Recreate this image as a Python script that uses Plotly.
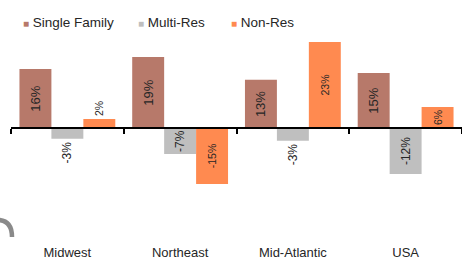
import plotly.graph_objects as go

categories = ["Midwest", "Northeast", "Mid-Atlantic", "USA"]
single_family = [15.8, 19.0, 12.9, 14.7]
multi_res = [-2.9, -7.0, -3.4, -12.3]
non_res = [2.4, -15.0, 23.0, 5.6]
series_names = ["Single Family", "Multi-Res", "Non-Res"]
colors = ["#B7796A", "#BFBFBF", "#FF8A50"]

Y_RANGE = [-30.8, 24.9]
FONT = "Liberation Sans, Arial, sans-serif"
TXT = "#262626"

fig = go.Figure()

series = [single_family, multi_res, non_res]
positions = [
    ["inside", "inside", "inside", "inside"],
    ["outside", "inside", "outside", "inside"],
    ["outside", "inside", "inside", "inside"],
]
sizes = [13, 12, 10.5]
legend_widths = [70, 48, 60]
for name, vals, col, pos, sz, lw in zip(series_names, series, colors, positions, sizes, legend_widths):
    fig.add_trace(go.Bar(
        x=categories, y=vals, name=name, legendgroup=name,
        marker=dict(color=col, line=dict(width=0)),
        texttemplate="%{y:.0f}%", textposition=pos, insidetextanchor="middle",
        textangle=-90, constraintext="none", cliponaxis=False,
        textfont=dict(family=FONT, size=sz, color=TXT),
        showlegend=False, hoverinfo="skip",
    ))
    fig.add_trace(go.Scatter(
        x=[None], y=[None], mode="markers", legendgroup=name, legendwidth=lw,
        name=f'<span style="font-size:10px;color:{col}">■</span> {name}',
        marker=dict(symbol="square", size=0, color="rgba(0,0,0,0)", opacity=0),
    ))

zero_frac = (0 - Y_RANGE[0]) / (Y_RANGE[1] - Y_RANGE[0])

L, T, W, H = 11, 35, 451, 208
def px(x, y):
    return (x - L) / W, (T + H - y) / H

x0, y0 = px(-1, 220)
cx, cy = px(12, 221)
x1, y1 = px(12, 237)
fig.add_shape(type="path", xref="paper", yref="paper",
              path=f"M {x0},{y0} Q {cx},{cy} {x1},{y1}",
              line=dict(color="#8A8A8A", width=4.5))

lx, _ = px(-17, 0)
_, ly = px(0, 22)
fig.update_layout(
    width=462, height=260,
    margin=dict(l=L, r=0, t=T, b=260 - T - H, autoexpand=False),
    paper_bgcolor="white", plot_bgcolor="white",
    barmode="group", bargap=0.15, bargroupgap=0,
    font=dict(family=FONT, size=13, color=TXT),
    legend=dict(orientation="h", x=lx, xanchor="left", y=ly, yanchor="middle",
                font=dict(size=13.5, color=TXT), itemwidth=30, bgcolor="rgba(0,0,0,0)"),
    xaxis=dict(anchor="free", position=zero_frac, showline=True, linecolor="black",
               linewidth=1.5, ticks="outside", tickson="boundaries", ticklen=5,
               tickcolor="black", tickwidth=1.5, showgrid=False,
               ticklabelstandoff=113, tickfont=dict(size=13, color=TXT)),
    yaxis=dict(range=Y_RANGE, visible=False, showgrid=False, zeroline=False),
)

fig.write_html("out.html", config={"displayModeBar": False},
               post_script="document.body.style.margin='0';")
